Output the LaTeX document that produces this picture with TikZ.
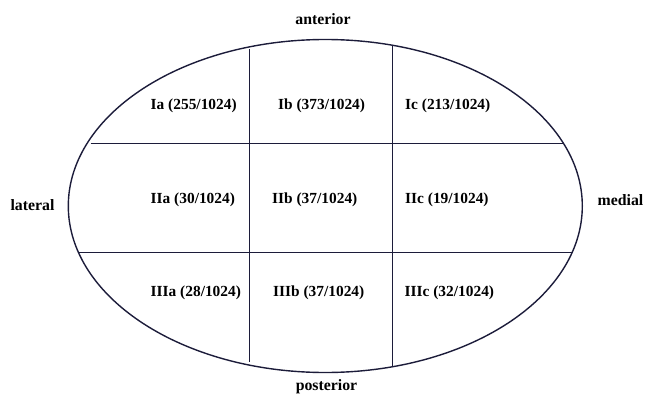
\documentclass[tikz,border=0pt]{standalone}
\usepackage{fontspec}
\setmainfont{Liberation Serif}
\definecolor{inkc}{RGB}{28,28,58}
\tikzset{
  outline/.style={draw=inkc, line width=1.4pt},
  divider/.style={draw=inkc, line width=1.3pt},
  cell/.style={anchor=base west, inner sep=0pt, font=\bfseries\fontsize{15.4}{18}\selectfont},
  dirlab/.style={anchor=base, inner sep=0pt, font=\bfseries\fontsize{15.8}{18}\selectfont}
}
\begin{document}
\begin{tikzpicture}[x=1pt,y=-1pt]
\useasboundingbox (0,0) rectangle (645,396);
\draw[outline] (325.3,206) ellipse [x radius=257, y radius=166.5];
% divider end points
\coordinate (h1l) at (90.7,143.3);
\coordinate (h1r) at (562.7,143.3);
\coordinate (h2l) at (79,252.7);
\coordinate (h2r) at (572.7,252.7);
\coordinate (v1t) at (249.5,49.5);
\coordinate (v1b) at (249.5,362);
\coordinate (v2t) at (392.5,45);
\coordinate (v2b) at (392.5,366.5);
\draw[divider] (h1l) -- (h1r);
\draw[divider] (h2l) -- (h2r);
\draw[divider] (v1t) -- (v1b);
\draw[divider] (v2t) -- (v2b);
% cell labels
\node[cell] (ia) at (150.5,109) {Ia (255/1024)};
\node[cell] (ib) at (278,109) {Ib (373/1024)};
\node[cell] (ic) at (405,109) {Ic (213/1024)};
\node[cell] (iia) at (150.5,203) {IIa (30/1024)};
\node[cell] (iib) at (272,203) {IIb (37/1024)};
\node[cell] (iic) at (405,203) {IIc (19/1024)};
\node[cell] (iiia) at (150.5,296) {IIIa (28/1024)};
\node[cell] (iiib) at (273,296) {IIIb (37/1024)};
\node[cell] (iiic) at (404.5,296) {IIIc (32/1024)};
% direction labels
\node[dirlab] (ant) at (323,25) {anterior};
\node[dirlab] (post) at (326.5,390) {posterior};
\node[dirlab] (lat) at (32.5,210.7) {lateral};
\node[dirlab] (med) at (620.5,205) {medial};
\end{tikzpicture}
\end{document}
